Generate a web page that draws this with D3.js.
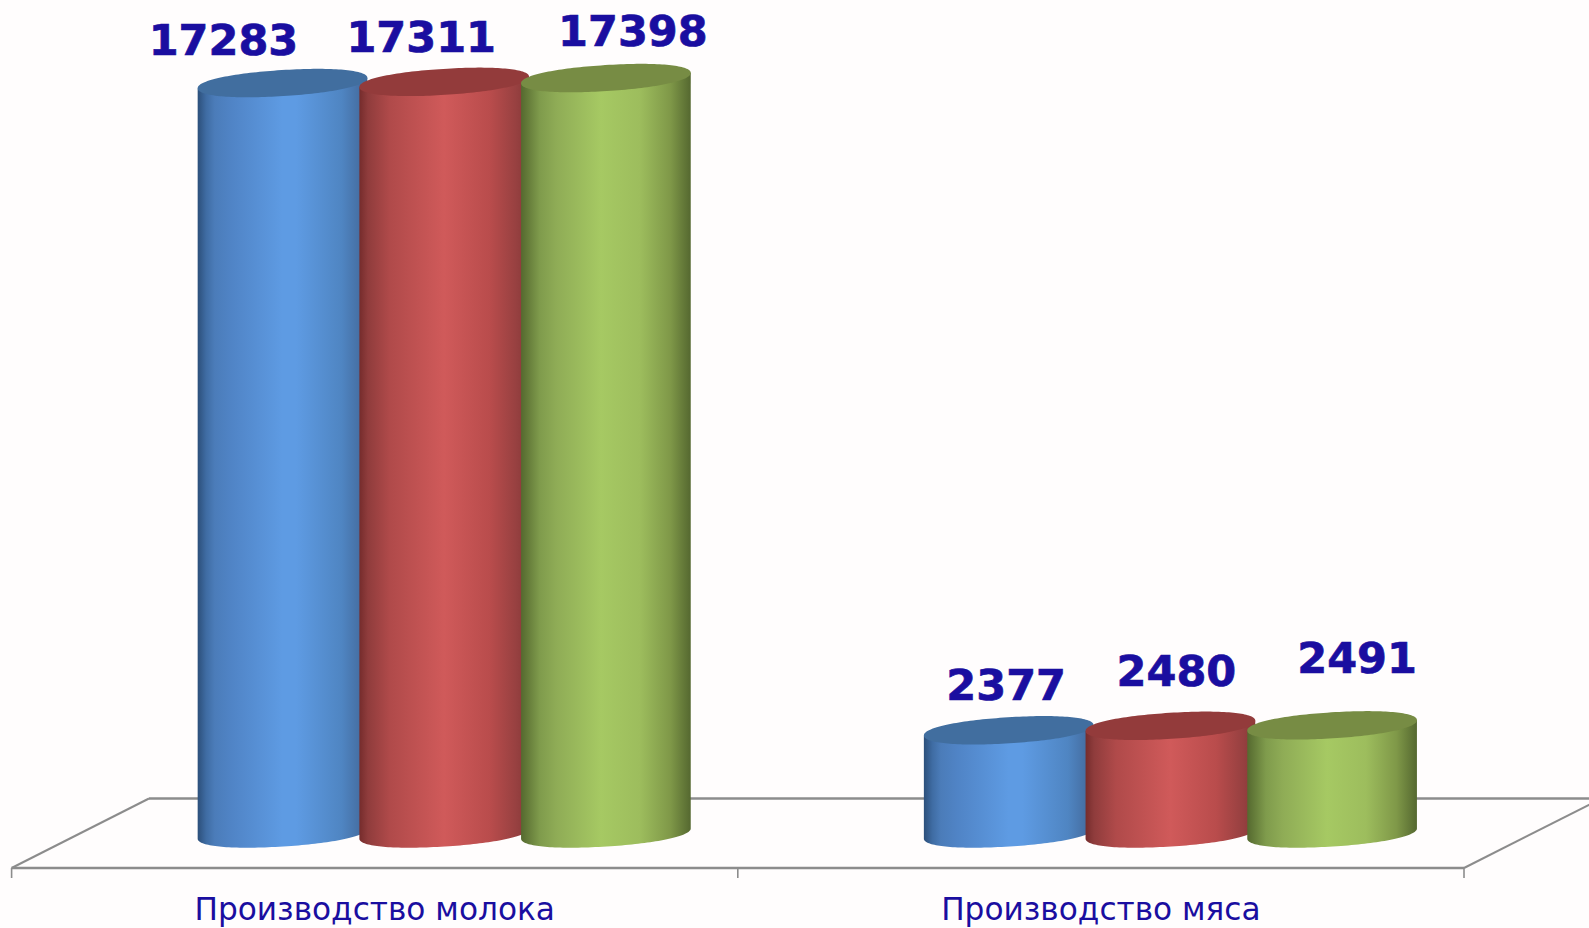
<!DOCTYPE html>
<html><head><meta charset="utf-8">
<script src="https://cdn.jsdelivr.net/npm/d3@7/dist/d3.min.js"></script>
<style>html,body{margin:0;padding:0;background:#fffdfd;overflow:hidden}svg{display:block}</style>
</head><body><svg id="c" width="1589" height="928"></svg>
<script>
const categories = ["Производство молока", "Производство мяса"];
const seriesNames = ["A", "B", "C"];
const milk = [17283, 17311, 17398];
const meat = [2377, 2480, 2491];
const values = [milk, meat];

const palettes = [
  {top:"#416e9f", stops:[[0,"#2c4f7a"],[0.05,"#3f6ca3"],[0.1,"#4b7cb9"],[0.2,"#5084c6"],[0.5,"#5e9be3"],[0.58,"#5e9be3"],[0.85,"#4f85c2"],[0.95,"#4670a5"],[1,"#3d6494"]]},
  {top:"#933b3b", stops:[[0,"#752c2c"],[0.05,"#8f3c3c"],[0.18,"#b04a4a"],[0.5,"#d05a5a"],[0.77,"#b94c4c"],[0.93,"#964040"],[1,"#863636"]]},
  {top:"#778c44", stops:[[0,"#55692f"],[0.11,"#7f9b4c"],[0.21,"#8fac56"],[0.47,"#a6c963"],[0.7,"#9dbd5d"],[0.88,"#7f9848"],[1,"#556830"]]}
];
// hand-placed label offsets from the top of each cylinder [dx, dy]
const labelOffsets = [
  [[-59,-28],[-23,-30],[27,-32]],
  [[-2.5,-30.5],[6,-40],[25,-52]]
];

const svg = d3.select("#c");
const x = d3.scaleBand().domain(categories).range([11.6, 1464]);
const y = d3.scaleLinear().domain([0, 20000]).range([833.5, -34.9]);
const s = d3.scalePoint().domain(seriesNames).range([0, 323.4]);
const groupOffset = 185.9;
const rx = 85, ry = 13, tilt = -3.6, squareness = 2.15;
const frontY = 868, backY = 798.5, depthDX = 137.4;
const ink = "#1a0ea0", grey = "#8c8c8c";

const defs = svg.append("defs");
palettes.forEach((p,i)=>{
  const g = defs.append("linearGradient").attr("id","g"+i).attr("x1",0).attr("x2",1).attr("y1",0).attr("y2",0);
  p.stops.forEach(([o,c])=>g.append("stop").attr("offset",o).attr("stop-color",c));
});

// floor
const floor = svg.append("g").attr("fill","none").attr("stroke",grey);
floor.append("line").attr("x1",x.range()[0]+depthDX).attr("x2",1589).attr("y1",backY).attr("y2",backY).attr("stroke-width",2.6);
floor.append("line").attr("x1",x.range()[0]).attr("x2",x.range()[1]).attr("y1",frontY).attr("y2",frontY).attr("stroke-width",2.6);
floor.append("line").attr("x1",x.range()[0]).attr("y1",frontY).attr("x2",x.range()[0]+depthDX).attr("y2",backY).attr("stroke-width",2);
floor.append("line").attr("x1",x.range()[1]).attr("y1",frontY).attr("x2",x.range()[1]+depthDX).attr("y2",backY).attr("stroke-width",2);
const tickXs = categories.map(c=>x(c)).concat([x.range()[1]]);
floor.selectAll(".t").data(tickXs).join("line").attr("x1",d=>d).attr("x2",d=>d).attr("y1",frontY).attr("y2",frontY+10).attr("stroke-width",1.6);

// cylinder outline: rounded ellipse, tilted
const rad = tilt*Math.PI/180;
const spow = (v)=>Math.sign(v)*Math.pow(Math.abs(v),2/squareness);
function rim(cx,cy,t0,t1,n){
  return d3.range(n+1).map(i=>{
    const t=t0+(t1-t0)*i/n, ex=rx*spow(Math.cos(t)), ey=ry*spow(Math.sin(t));
    return [cx+ex*Math.cos(rad)-ey*Math.sin(rad), cy+ex*Math.sin(rad)+ey*Math.cos(rad)];
  });
}
const line = d3.line();
categories.forEach((cat,ci)=>{
  const g = svg.append("g");
  seriesNames.forEach((name,si)=>{
    const v = values[ci][si];
    const cx = x(cat)+groupOffset+rx+s(name), top = y(v), base = y(0);
    const front = rim(cx,base,Math.PI,0,80);       // left -> bottom -> right
    const back = rim(cx,top,0,Math.PI,2);          // right end, left end only
    const body = front.concat([[back[0][0],back[0][1]],[back[2][0],back[2][1]]]);
    g.append("path").attr("fill",`url(#g${si})`).attr("d",line(body)+"Z");
    g.append("path").attr("fill",palettes[si].top).attr("d",line(rim(cx,top,0,2*Math.PI,160))+"Z");
  });
  seriesNames.forEach((name,si)=>{
    const v = values[ci][si], o = labelOffsets[ci][si];
    svg.append("text").attr("x",x(cat)+groupOffset+rx+s(name)+o[0]).attr("y",y(v)+o[1])
      .attr("text-anchor","middle").attr("font-family","'DejaVu Sans'").attr("font-weight","bold")
      .attr("font-size",43).attr("fill",ink).attr("stroke",ink).attr("stroke-width",0.7).text(v);
  });
  svg.append("text").attr("x",x(cat)+x.bandwidth()/2).attr("y",920).attr("text-anchor","middle")
    .attr("font-family","'DejaVu Sans'").attr("font-size",31.2).attr("fill",ink).text(cat);
});
</script></body></html>
